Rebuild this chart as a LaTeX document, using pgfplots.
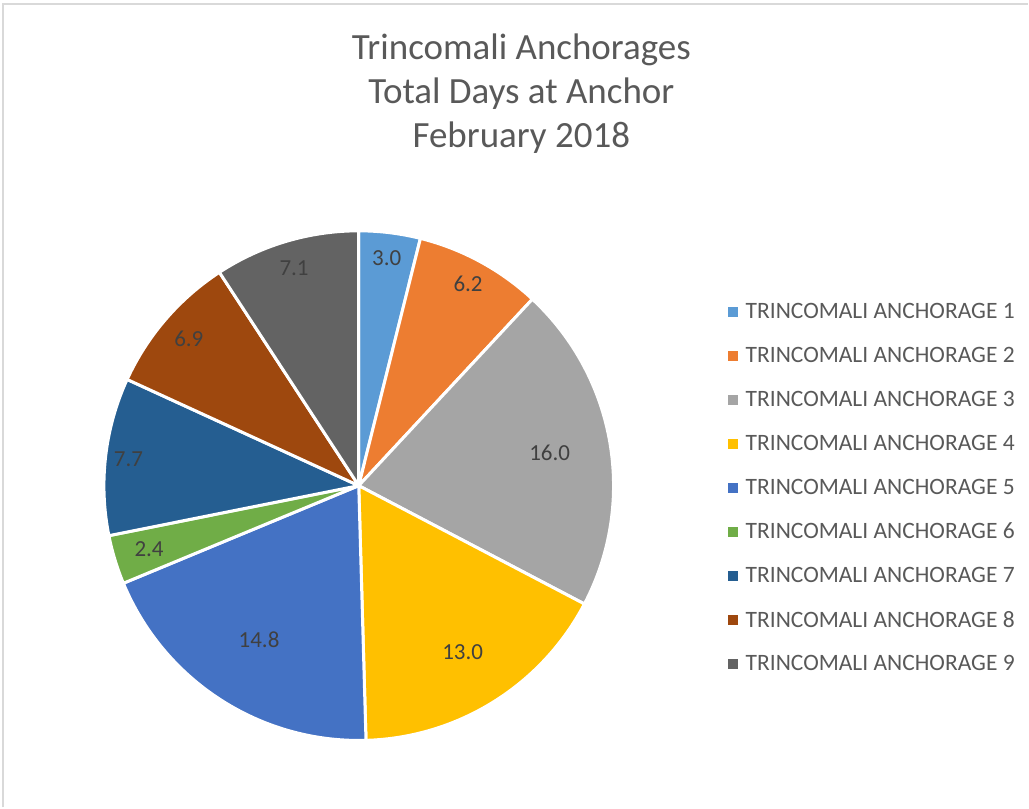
\documentclass[border=0pt]{standalone}
\usepackage{pgfplots}
\pgfplotsset{compat=1.18}
\usepackage{pgfplotstable}
\usepackage{fontspec}
\setmainfont{Carlito}

\definecolor{c0}{HTML}{5B9BD5}
\definecolor{c1}{HTML}{ED7D31}
\definecolor{c2}{HTML}{A5A5A5}
\definecolor{c3}{HTML}{FFC000}
\definecolor{c4}{HTML}{4472C4}
\definecolor{c5}{HTML}{70AD47}
\definecolor{c6}{HTML}{255E91}
\definecolor{c7}{HTML}{9E480E}
\definecolor{c8}{HTML}{636363}
\definecolor{titletext}{HTML}{595959}
\definecolor{labeltext}{HTML}{404040}
\definecolor{frame}{HTML}{D9D9D9}

% days at anchor, lr = where the data label sits (fraction of radius)
\pgfplotstableread{
anchorage value lr
1 3.0 0.90
2 6.2 0.90
3 16.0 0.76
4 13.0 0.77
5 14.8 0.72
6 2.4 0.86
7 7.7 0.91
8 6.9 0.88
9 7.1 0.89
}\piedata
\pgfplotstablecreatecol[create col/expr accum={\pgfmathaccuma + \thisrow{value}}{0}]{cum}\piedata
\pgfplotstablegetelem{8}{cum}\of\piedata
\pgfmathsetmacro\total{\pgfplotsretval}

\begin{document}
\begin{tikzpicture}
\begin{axis}[
  x=1pt, y=1pt,
  xmin=0, xmax=1029, ymin=0, ymax=808,
  hide axis, clip=false,
  title={Trincomali Anchorages\\Total Days at Anchor\\February 2018},
  title style={at={(axis description cs:0.507,0.877)}, anchor=center,
    align=center, text=titletext, font=\fontsize{37}{44}\selectfont},
  legend image code/.code={\fill[#1, draw=none] (0pt,-5pt) rectangle (10pt,5pt);},
  legend cell align=left,
  legend style={at={(axis cs:725,520)}, anchor=north west, draw=none, fill=none,
    font=\fontsize{23.5}{28}\selectfont, text=titletext,
    nodes={inner sep=0pt, minimum height=44pt},
    column sep=8pt},
]
\path (axis cs:0,0) rectangle (axis cs:1029,808);
\draw[frame, line width=1.5pt] (axis cs:3,0) -- (axis cs:3,804) -- (axis cs:1029,804);

\pgfplotsinvokeforeach{0,...,8}{
  \pgfplotstablegetelem{#1}{value}\of\piedata \let\vstr\pgfplotsretval
  \pgfplotstablegetelem{#1}{cum}\of\piedata \pgfmathsetmacro\cb{\pgfplotsretval}
  \pgfplotstablegetelem{#1}{lr}\of\piedata \pgfmathsetmacro\lr{\pgfplotsretval}
  \pgfmathsetmacro\aend{90-\cb/\total*360}
  \pgfmathsetmacro\astart{\aend+\vstr/\total*360}
  \pgfmathsetmacro\amid{(\astart+\aend)/2}
  \pgfmathsetmacro\lx{359+\lr*255*cos(\amid)}
  \pgfmathsetmacro\ly{322+\lr*255*sin(\amid)}
  \edef\temp{%
    \noexpand\filldraw[fill=c#1, draw=white, line width=3pt, line join=round]
      (axis cs:359,322) -- ++(\astart:255pt)
      arc[start angle=\astart, end angle=\aend, radius=255pt] -- cycle;
    \noexpand\node[text=labeltext, font=\noexpand\fontsize{23}{27}\noexpand\selectfont]
      at (axis cs:\lx,\ly) {\vstr};
  }\temp
  \addlegendimage{fill=c#1}
  \addlegendentry{TRINCOMALI ANCHORAGE \the\numexpr#1+1\relax}
}
\end{axis}
\end{tikzpicture}
\end{document}
